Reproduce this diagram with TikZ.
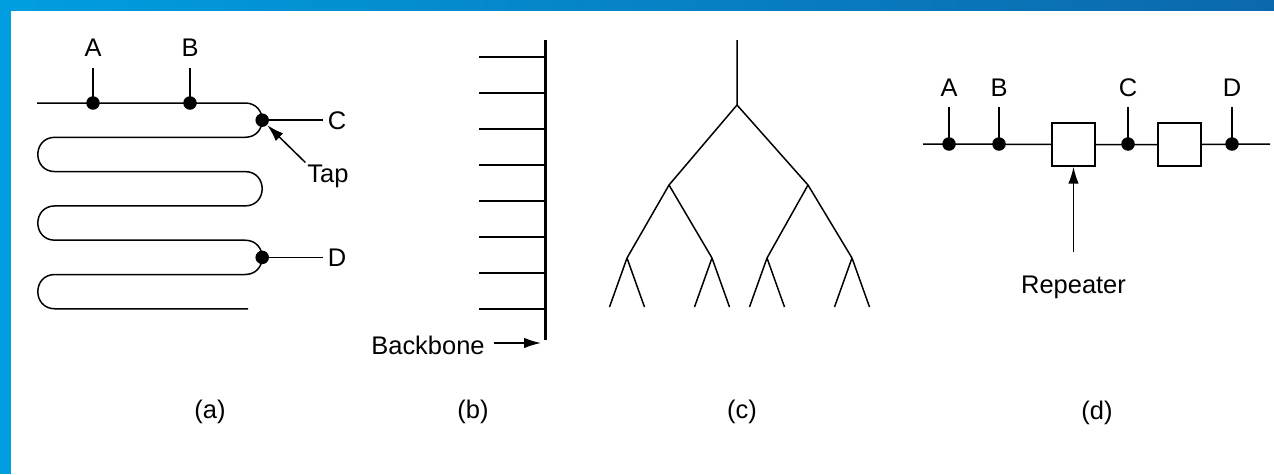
\documentclass[tikz,border=0pt]{standalone}
\usepackage{fontspec}
\setmainfont{Liberation Sans}
\usetikzlibrary{arrows.meta,positioning}
\definecolor{bandside}{RGB}{0,158,224}
\definecolor{banddark}{RGB}{12,104,172}
\tikzset{cable/.style={line width=0.85pt},
  backbone/.style={line width=1.7pt},
  tap/.style={circle, fill, inner sep=0pt, minimum size=0.27cm},
  lbl/.style={font=\fontsize{14.5}{17}\selectfont, inner sep=1pt},
  pointer/.style={line width=0.85pt, -{Latex[length=3.4mm,width=2.1mm]}},
  repeater/.style={draw, line width=0.85pt, minimum size=0.86cm, inner sep=0pt}}

\begin{document}
\begin{tikzpicture}[x=0.02cm, y=-0.02cm]
  \useasboundingbox (0,0) rectangle (1274,474);
  \fill[white] (0,0) rectangle (1274,474);
  \shade[left color=bandside, right color=banddark] (0,0) rectangle (1274,10);
  \fill[bandside] (0,0) rectangle (11,474);

  \draw[cable] (37,103) -- (245,103) .. controls +(22.9,0) and +(22.9,0) .. (245,137.3)
    -- (55,137.3) .. controls +(-22.9,0) and +(-22.9,0) .. (55,171.6)
    -- (245,171.6) .. controls +(22.9,0) and +(22.9,0) .. (245,205.9)
    -- (55,205.9) .. controls +(-22.9,0) and +(-22.9,0) .. (55,240.2)
    -- (245,240.2) .. controls +(22.9,0) and +(22.9,0) .. (245,274.5)
    -- (55,274.5) .. controls +(-22.9,0) and +(-22.9,0) .. (55,308.8)
    -- (248,308.8);
  \node[tap] (tapA) at (93,103) {};
  \node[tap] (tapB) at (190,103) {};
  \node[tap] (tapC) at (262.2,120.2) {};
  \node[tap] (tapD) at (262.2,257.4) {};
  \coordinate (topA) at (93,68);
  \coordinate (topB) at (190,68);
  \node[lbl] (labA) at (93,48) {A};
  \node[lbl] (labB) at (190,48) {B};
  \node[lbl, inner sep=2.5pt] (labC) at (337,121) {C};
  \node[lbl, inner sep=2.5pt] (labD) at (337,258) {D};
  \node[lbl] (labTap) at (328,176) {Tap};
  \draw[cable] (tapA.center) -- (topA);
  \draw[cable] (tapB.center) -- (topB);
  \draw[cable] (tapC.center) -- (labC.west |- tapC);
  \draw[cable] (tapD.center) -- (labD.west |- tapD);
  \draw[pointer] (labTap.north west) -- (tapC);
  \node[lbl] (capA) at (210,412) {(a)};

  \coordinate (bbTop) at (545,40);
  \coordinate (bbEnd) at (545,340);
  \draw[backbone] (bbTop) -- (bbEnd);
  \foreach \i in {0,...,7}
    \draw[cable] (479,57+36*\i) -- (545,57+36*\i);
  \node[lbl] (labBb) at (428,345) {Backbone};
  \coordinate (bbTip) at (541,343);
  \draw[pointer] ([xshift=4pt]labBb.east |- bbTip) -- (bbTip);
  \node[lbl] (capB) at (473,412) {(b)};

  \coordinate (root) at (737,40);
  \coordinate (n) at (737,105);
  \coordinate (n0) at (669,185);
  \coordinate (n1) at (808,185);
  \coordinate (n00) at (627,258);
  \coordinate (n01) at (712,258);
  \coordinate (n10) at (767,258);
  \coordinate (n11) at (852,258);
  \draw[cable] (root) -- (n) (n) -- (n0) (n) -- (n1)
    (n0) -- (n00) (n0) -- (n01) (n1) -- (n10) (n1) -- (n11);
  \foreach \leaf in {n00,n01,n10,n11}
    \draw[cable] (\leaf) -- ++(-17.5,49) (\leaf) -- ++(17.5,49);
  \node[lbl] (capC) at (742,412) {(c)};

  \coordinate (busL) at (923,144);
  \coordinate (busR) at (1270,144);
  \node[repeater] (rep1) at (1073.5,144.5) {};
  \node[repeater] (rep2) at (1179.5,144.5) {};
  \draw[cable] (busL) -- (rep1) (rep1) -- (rep2) (rep2) -- (busR);
  \foreach \name/\x in {A/949,B/999,C/1128,D/1232} {
    \node[tap] (bus\name) at (\x,144) {};
    \coordinate (busTop\name) at (\x,107);
    \node[lbl] (busLab\name) at (\x,88) {\name};
    \draw[cable] (bus\name.center) -- (busTop\name);
  }
  \coordinate (repTail) at (1073.5,252);
  \node[lbl, below=12.5pt of repTail, inner sep=1pt] (labRep) {Repeater};
  \draw[pointer] (repTail) -- (rep1);
  \node[lbl] (capD) at (1097,413) {(d)};
\end{tikzpicture}
\end{document}
